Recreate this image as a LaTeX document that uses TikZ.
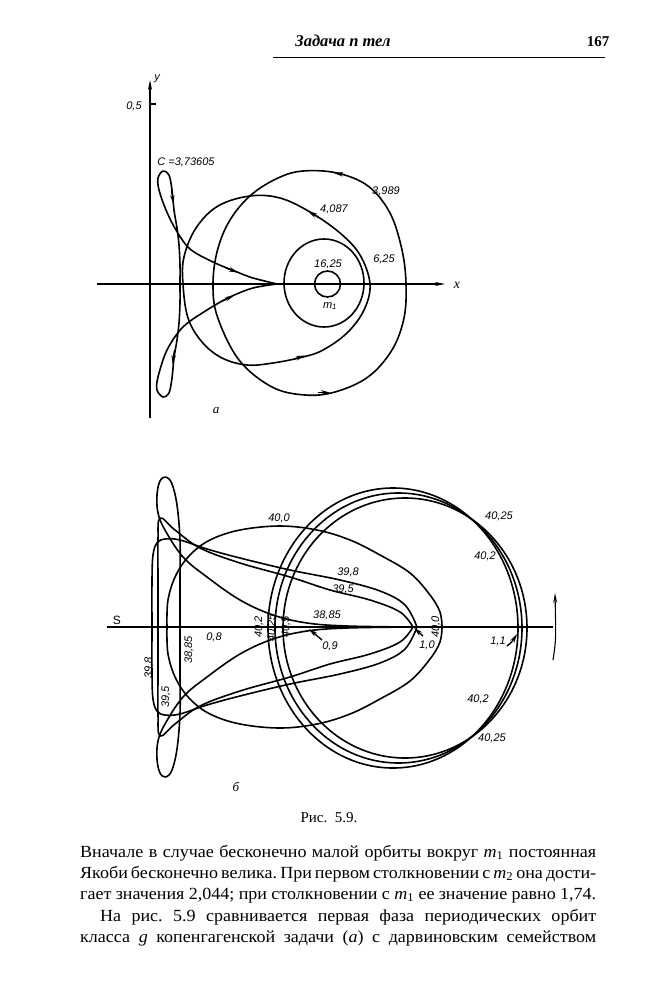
\documentclass[tikz,border=0pt]{standalone}
\usepackage{fontspec}
\setmainfont{Liberation Serif}
\setsansfont{Liberation Sans}
\newfontfamily\bodyfont[FakeStretch=1.06]{Liberation Serif}
\usetikzlibrary{arrows.meta}
\newcommand\symdraw[2]{%
  \draw[curve] plot[smooth,tension=0.6] coordinates {#2};
  \begin{scope}[shift={(0,#1)},yscale=-1]
    \draw[curve] plot[smooth,tension=0.6] coordinates {#2};
  \end{scope}}
\begin{document}
\frenchspacing
\begin{tikzpicture}[x=1pt,y=-1pt,
  curve/.style={line width=1.6pt, line join=round},
  axis/.style={line width=1.1pt},
  lab/.style={font=\sffamily\itshape\fontsize{11}{11}\selectfont, inner sep=0pt},
  arr/.style={-{Stealth[length=9pt,width=4.5pt]}, line width=1.4pt},
  axarr/.style={-{Stealth[length=10pt,width=4pt]}, line width=1.1pt},
  bodyline/.style={font=\bodyfont\fontsize{17}{21}\selectfont, inner sep=0pt, anchor=base west},
]
\useasboundingbox (0,0) rectangle (650,990);
% header
\node[font=\bfseries\itshape\fontsize{16.5}{16.5}\selectfont, inner sep=0pt] (hdr) at (343,41) {Задача n тел};
\node[font=\bfseries\fontsize{15}{15}\selectfont, inner sep=0pt] (pg) at (598,42) {167};
\draw[line width=0.9pt] (273,57) -- (605,57);

%% ===== diagram a =====
\draw[axarr] (150,418) -- (150,80);
\draw[axis] (150,104) -- (156,104);
\node[lab] (l05) at (134,106) {0,5};
\node[lab] (ly) at (157,79) {y};
\draw[axarr] (97,284) -- (445,284);
\node[lab,font=\itshape\fontsize{14}{14}\selectfont] (lx) at (457,285) {x};
% 16.25
\draw[curve] (327.5,284) circle [radius=13];
% 6.25
\draw[curve] (324,283) ellipse [x radius=40, y radius=44];
% 4.087
\draw[curve] plot[smooth cycle,tension=0.6] coordinates {(183,284) (184,257) (196,228) (218,206) (250,196) (280,198) (310,212) (340,233) (360,255) (370,284) (364,310) (347,333) (323,350) (303,357) (273,363) (247,365) (222,358) (202,342) (188,318)};
% 3.989
\draw[curve] plot[smooth cycle,tension=0.6] coordinates {(213,284) (217.5,250) (230,220) (251,195) (278,178) (303,171) (337,173) (368,186) (390,213) (402,250) (406,284) (404,318) (392,350) (368,377) (335,392) (305,395) (272,387) (239,360) (217.5,317)};
% C = 3.73605
\draw[curve] plot[smooth,tension=0.55] coordinates {(277,284) (253,278) (237,272) (213,262) (190,249) (176,230) (166,210) (159,190) (158,178) (163,171) (169,175) (172,190) (174,210) (177,228) (179,245) (180,265) (180,284) (180,303) (179,323) (177,340) (174,358) (172,378) (169,393) (163,397) (157,390) (158,377) (167,350) (183,327) (207,310) (230,297) (253,288) (277,284)};
% arrows on orbits
\draw[arr] (344,174.5) -- (334,173);
\draw[arr] (318,392.5) -- (330,392.5);
\draw[arr] (318,217) -- (308,211);
\draw[arr] (294,359) -- (305,355.5);
\draw[arr] (171.5,190) -- (173.5,204);
\draw[arr] (174.5,350) -- (172.5,364);
\draw[arr] (226,268) -- (238,272.5);
\draw[arr] (222,301) -- (234,295.5);
% labels
\node[lab] (lC) at (186,162) {C =3,73605};
\node[lab] (l3989) at (386,191) {3,989};
\node[lab] (l4087) at (334,209) {4,087};
\node[lab] (l625) at (384,259) {6,25};
\node[lab] (l1625) at (328,264) {16,25};
\node[lab] (lm1) at (330,306) {m\textsubscript{1}};
\node[lab,font=\itshape\fontsize{13}{13}\selectfont] (la) at (216,411) {a};

%% ===== diagram b =====
\draw[axis] (107,627) -- (553,627);
\node[lab,font=\sffamily\fontsize{12}{12}\selectfont] (lS) at (117,620) {S};
\draw[axarr] (553,660) .. controls (556,640) .. (555,593);
% ring 40.2 / 40.25 / 40.5
\draw[curve] (393,628) ellipse [x radius=125, y radius=140];
\draw[curve] (398.5,628) ellipse [x radius=123.5, y radius=135];
\draw[curve] (405,628) ellipse [x radius=122, y radius=130];
% 40.0 egg
\symdraw{1254}{(167,627) (168,600) (176,575) (190,555) (210,540) (240,530) (280,526) (317,530) (350,540) (380,555) (410,573) (430,595) (440,612) (442,627)}
% 39.8
\symdraw{1254}{(152,627) (152,580) (153,555) (157,543) (165,539) (180,540) (207,549) (240,558) (290,570) (340,580) (380,591) (405,605) (417,627)}
% 39.5
\symdraw{1254}{(158,627) (158,580) (158,540) (160,518) (175,530) (200,548) (240,563) (290,577) (330,590) (370,600) (400,612) (413,627)}
% 38.85
\symdraw{1254}{(180,627) (180,580) (180,540) (177,505) (172,484) (166,477) (160,481) (157,495) (158,513) (165,530) (183,557) (207,577) (240,600) (273,615) (307,623) (347,626) (410,627)}
% small arrows
\draw[arr] (322,640) -- (309,629);
\draw[arr] (423,636) -- (414,628);
\draw[arr] (507,646) .. controls (512,642) .. (517,634);
% labels
\node[lab] (b400) at (279,518) {40,0};
\node[lab] (b398) at (348,572) {39,8};
\node[lab] (b395) at (343,589) {39,5};
\node[lab] (b3885) at (327,615) {38,85};
\node[lab] (b08) at (214,637) {0,8};
\node[lab] (b09) at (330,646) {0,9};
\node[lab] (b10) at (427,645) {1,0};
\node[lab,rotate=90] (b400v) at (436,627) {40,0};
\node[lab] (b11) at (498,641) {1,1};
\node[lab] (b4025a) at (499,516) {40,25};
\node[lab] (b402a) at (485,556) {40,2};
\node[lab] (b402b) at (478,699) {40,2};
\node[lab] (b4025b) at (492,738) {40,25};
\node[lab,rotate=90] (v398) at (149,668) {39,8};
\node[lab,rotate=90] (v3885) at (189,650) {38,85};
\node[lab,rotate=90] (v395) at (166,697) {39,5};
\node[lab,rotate=90] (v402) at (259,627) {40,2};
\node[lab,rotate=90] (v4025) at (272,628) {40,25};
\node[lab,rotate=90] (v405) at (286,627) {40,5};
\node[lab,font=\itshape\fontsize{13}{13}\selectfont] (lb) at (236,787) {б};

% caption and text
\node[font=\fontsize{15}{15}\selectfont, inner sep=0pt] (cap) at (329,818) {Рис.\ \ 5.9.};
\node[bodyline] (t1) at (80,857) {\makebox[516pt][s]{Вначале в случае бесконечно малой орбиты вокруг \textit{m}\textsubscript{1} постоянная}};
\node[bodyline] (t2) at (80,878) {\makebox[516pt][s]{Якоби бесконечно велика. При первом столкновении с \textit{m}\textsubscript{2} она дости-}};
\node[bodyline] (t3) at (80,899) {\makebox[516pt][s]{гает значения 2,044; при столкновении с \textit{m}\textsubscript{1} ее значение равно 1,74.}};
\node[bodyline] (t4) at (100,921) {\makebox[496pt][s]{На рис. 5.9 сравнивается первая фаза периодических орбит}};
\node[bodyline] (t5) at (80,942) {\makebox[516pt][s]{класса \textit{g} копенгагенской задачи (\textit{a}) с дарвиновским семейством}};
\end{tikzpicture}
\end{document}
